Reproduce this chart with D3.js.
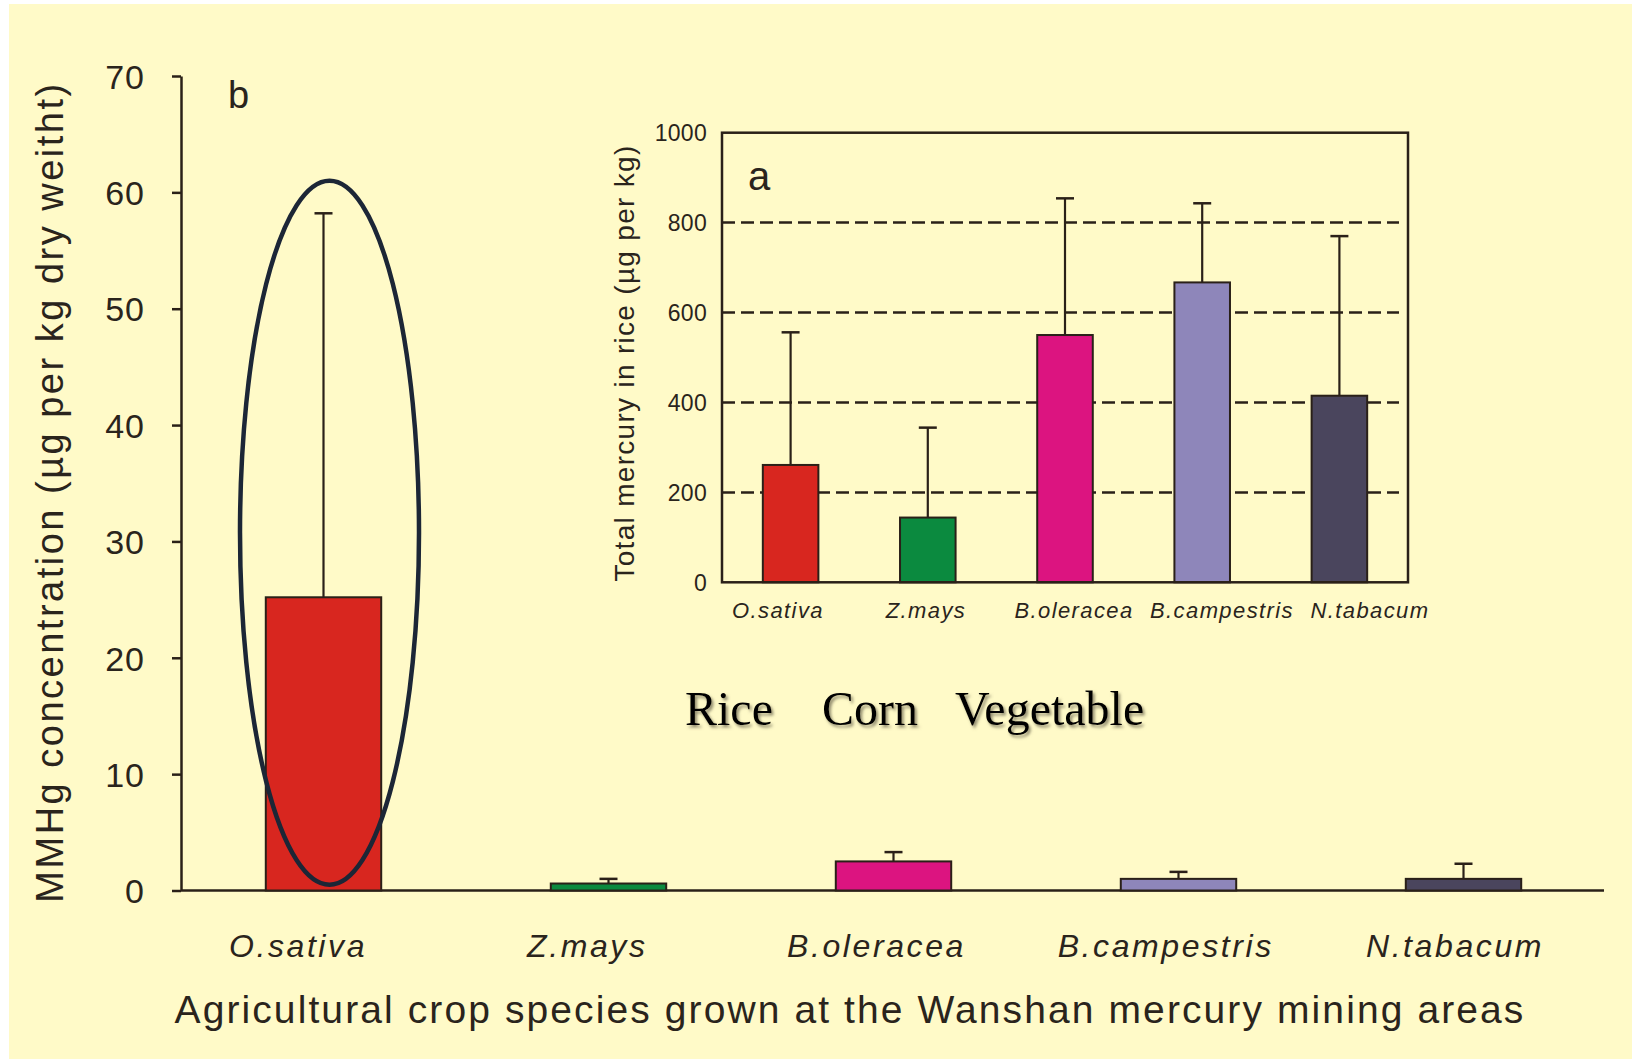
<!DOCTYPE html>
<html>
<head>
<meta charset="utf-8">
<script src="https://cdn.jsdelivr.net/npm/d3@7"></script>
<style>
  body { margin: 0; background: #fff; }
  svg text { font-family: "Liberation Sans", Arial, Helvetica, sans-serif; fill: #2a241c; }
</style>
</head>
<body>
<div id="chart"></div>
<script>
var width = 1632,
    height = 1059;

// crop species, same order in both panels
var species = ["O.sativa", "Z.mays", "B.oleracea", "B.campestris", "N.tabacum"];
var barColors = ["#d8261f", "#0b8a3f", "#dc1480", "#8e86ba", "#4a455d"];

// panel b: MMHg concentration (ug per kg dry weight), mean and mean+SD
var mmhgMean = [25.2, 0.6, 2.5, 1.0, 1.0];
var mmhgTop  = [58.2, 1.0, 3.3, 1.6, 2.3];
var mmhgTicks = [0, 10, 20, 30, 40, 50, 60, 70];

// panel a (inset): total mercury (ug per kg)
var thgMean = [261, 144, 550, 667, 415];
var thgTop  = [556, 344, 854, 843, 770];
var thgTicks = [0, 200, 400, 600, 800, 1000];
var thgGrid = [200, 400, 600, 800];

var groupLabels = ["Rice", "Corn", "Vegetable"];

var ink = "#2a2018";

var svg = d3.select("#chart").append("svg")
    .attr("width", width)
    .attr("height", height);

// shadow for the Rice / Corn / Vegetable annotation
var defs = svg.append("defs");
defs.append("filter").attr("id", "shadow")
    .attr("x", "-10%").attr("y", "-20%").attr("width", "130%").attr("height", "150%")
  .append("feDropShadow")
    .attr("dx", 2).attr("dy", 2.5).attr("stdDeviation", 1.6)
    .attr("flood-color", "#6b6650").attr("flood-opacity", 0.75);

svg.append("rect")
    .attr("x", 9).attr("y", 4)
    .attr("width", width - 9).attr("height", height - 4)
    .attr("fill", "#fffac8");

/* ---------- main panel (b) ---------- */
var x = d3.scaleBand()
    .domain(species)
    .range([181, 1606])
    .paddingInner(0.595)
    .paddingOuter(0.2975);

// species names sit a little left of the bars, spread slightly tighter
var xLab = d3.scalePoint()
    .domain(species)
    .range([298, 1455]);

var y = d3.scaleLinear()
    .domain([0, 70])
    .range([890.5, 76]);

var g = svg.append("g");

var yAxis = g.append("g")
    .attr("transform", "translate(" + x.range()[0] + ",0)")
    .call(d3.axisLeft(y).tickValues(mmhgTicks).tickSize(9).tickSizeOuter(0).tickPadding(27));
yAxis.select(".domain").attr("stroke", ink).attr("stroke-width", 2.5);
yAxis.selectAll(".tick line").attr("stroke", ink).attr("stroke-width", 2.5);
yAxis.selectAll(".tick text")
    .attr("fill", "#2e2a22")
    .style("font-size", "34px")
    .style("letter-spacing", "1px")
    .attr("dy", "0.36em");

g.append("line")
    .attr("x1", x.range()[0]).attr("x2", 1604)
    .attr("y1", y(0)).attr("y2", y(0))
    .attr("stroke", ink).attr("stroke-width", 2.5);

var bars = g.selectAll(".barb")
    .data(species).enter().append("g")
    .attr("class", "barb");

bars.append("line")
    .attr("x1", function(d) { return x(d) + x.bandwidth() / 2; })
    .attr("x2", function(d) { return x(d) + x.bandwidth() / 2; })
    .attr("y1", function(d, i) { return y(mmhgMean[i]); })
    .attr("y2", function(d, i) { return y(mmhgTop[i]); })
    .attr("stroke", ink).attr("stroke-width", 2.2);
bars.append("line")
    .attr("x1", function(d) { return x(d) + x.bandwidth() / 2 - 9; })
    .attr("x2", function(d) { return x(d) + x.bandwidth() / 2 + 9; })
    .attr("y1", function(d, i) { return y(mmhgTop[i]); })
    .attr("y2", function(d, i) { return y(mmhgTop[i]); })
    .attr("stroke", ink).attr("stroke-width", 2.5);
bars.append("rect")
    .attr("x", function(d) { return x(d); })
    .attr("width", x.bandwidth())
    .attr("y", function(d, i) { return y(mmhgMean[i]); })
    .attr("height", function(d, i) { return y(0) - y(mmhgMean[i]); })
    .attr("fill", function(d, i) { return barColors[i]; })
    .attr("stroke", ink).attr("stroke-width", 2);

g.selectAll(".xlab")
    .data(species).enter().append("text")
    .attr("class", "xlab")
    .attr("x", function(d) { return xLab(d); })
    .attr("y", 957)
    .attr("text-anchor", "middle")
    .style("font-size", "32px")
    .style("font-style", "italic")
    .style("letter-spacing", "2.6px")
    .text(function(d) { return d; });

g.append("text")
    .attr("x", 850).attr("y", 1023)
    .attr("text-anchor", "middle")
    .style("font-size", "39px")
    .style("letter-spacing", "2.1px")
    .text("Agricultural crop species grown at the Wanshan mercury mining areas");

g.append("text")
    .attr("transform", "translate(63,492) rotate(-90)")
    .attr("text-anchor", "middle")
    .style("font-size", "38px")
    .style("letter-spacing", "2.5px")
    .text("MMHg concentration (\u00b5g per kg dry weitht)");

g.append("text")
    .attr("x", 228).attr("y", 108)
    .style("font-size", "38px")
    .text("b");

// ellipse drawn around the O.sativa bar
var cx0 = x(species[0]) + x.bandwidth() / 2 + 6;
g.append("ellipse")
    .attr("cx", cx0)
    .attr("cy", (y(61) + y(0.5)) / 2)
    .attr("rx", 89.5)
    .attr("ry", (y(0.5) - y(61)) / 2)
    .attr("fill", "none")
    .attr("stroke", "#1c2636")
    .attr("stroke-width", 4.5);

/* ---------- inset panel (a) ---------- */
var xi = d3.scaleBand()
    .domain(species)
    .range([722, 1408])
    .paddingInner(0.595)
    .paddingOuter(0.2975);

var xiLab = d3.scalePoint()
    .domain(species)
    .range([778, 1370]);

var yi = d3.scaleLinear()
    .domain([0, 1000])
    .range([582.3, 132.7]);

var gi = svg.append("g");

gi.selectAll(".grid")
    .data(thgGrid).enter().append("line")
    .attr("class", "grid")
    .attr("x1", xi.range()[0]).attr("x2", xi.range()[1] - 9)
    .attr("y1", function(d) { return yi(d); })
    .attr("y2", function(d) { return yi(d); })
    .attr("stroke", ink)
    .attr("stroke-width", 2.5)
    .attr("stroke-dasharray", "13,6");

var ibars = gi.selectAll(".bara")
    .data(species).enter().append("g")
    .attr("class", "bara");

ibars.append("line")
    .attr("x1", function(d) { return xi(d) + xi.bandwidth() / 2; })
    .attr("x2", function(d) { return xi(d) + xi.bandwidth() / 2; })
    .attr("y1", function(d, i) { return yi(thgMean[i]); })
    .attr("y2", function(d, i) { return yi(thgTop[i]); })
    .attr("stroke", ink).attr("stroke-width", 2.2);
ibars.append("line")
    .attr("x1", function(d) { return xi(d) + xi.bandwidth() / 2 - 9; })
    .attr("x2", function(d) { return xi(d) + xi.bandwidth() / 2 + 9; })
    .attr("y1", function(d, i) { return yi(thgTop[i]); })
    .attr("y2", function(d, i) { return yi(thgTop[i]); })
    .attr("stroke", ink).attr("stroke-width", 2.5);
ibars.append("rect")
    .attr("x", function(d) { return xi(d); })
    .attr("width", xi.bandwidth())
    .attr("y", function(d, i) { return yi(thgMean[i]); })
    .attr("height", function(d, i) { return yi(0) - yi(thgMean[i]); })
    .attr("fill", function(d, i) { return barColors[i]; })
    .attr("stroke", ink).attr("stroke-width", 2);

gi.append("rect")
    .attr("x", xi.range()[0]).attr("y", yi(1000))
    .attr("width", xi.range()[1] - xi.range()[0])
    .attr("height", yi(0) - yi(1000))
    .attr("fill", "none")
    .attr("stroke", ink).attr("stroke-width", 2.5);

var yiAxis = gi.append("g")
    .attr("transform", "translate(" + xi.range()[0] + ",0)")
    .call(d3.axisLeft(yi).tickValues(thgTicks).tickFormat(d3.format("d")).tickSize(0).tickPadding(15));
yiAxis.select(".domain").remove();
yiAxis.selectAll(".tick text")
    .attr("fill", "#2e2a22")
    .style("font-size", "23px")
    .style("letter-spacing", "0.3px")
    .attr("dy", "0.36em");

gi.selectAll(".xlabi")
    .data(species).enter().append("text")
    .attr("class", "xlabi")
    .attr("x", function(d) { return xiLab(d); })
    .attr("y", 618)
    .attr("text-anchor", "middle")
    .style("font-size", "22px")
    .style("font-style", "italic")
    .style("letter-spacing", "1.4px")
    .text(function(d) { return d; });

gi.append("text")
    .attr("transform", "translate(634,363) rotate(-90)")
    .attr("text-anchor", "middle")
    .style("font-size", "28px")
    .style("letter-spacing", "1.3px")
    .text("Total mercury in rice (\u00b5g per kg)");

gi.append("text")
    .attr("x", 748).attr("y", 190)
    .style("font-size", "40px")
    .text("a");

/* ---------- group annotation ---------- */
var groupX = [685, 822, 955];
svg.selectAll(".grp")
    .data(groupLabels).enter().append("text")
    .attr("class", "grp")
    .attr("x", function(d, i) { return groupX[i]; })
    .attr("y", 725)
    .attr("filter", "url(#shadow)")
    .style("font-family", "'Liberation Serif', 'Times New Roman', serif")
    .style("font-size", "48px")
    .style("fill", "#000")
    .text(function(d) { return d; });
</script>
</body>
</html>
